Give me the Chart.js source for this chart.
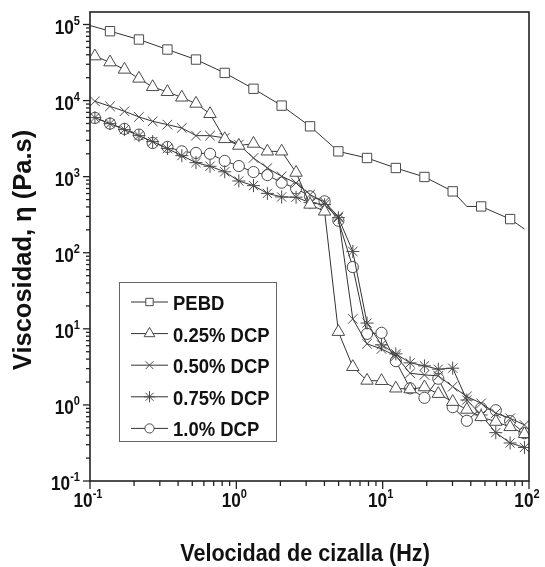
<!DOCTYPE html>
<html>
<head>
<meta charset="utf-8">
<script src="https://cdn.jsdelivr.net/npm/chart.js@4.4.1/dist/chart.umd.min.js"></script>
<style>
  html, body { margin: 0; padding: 0; background: #fff; }
  canvas { display: block; }
</style>
</head>
<body>
<canvas id="chart" width="545" height="567" style="width:545px;height:567px"></canvas>
<script>
// Shear-rate grid shared by the DCP blends (Hz)
const shearRate = [0.108, 0.137, 0.172, 0.216, 0.268, 0.338, 0.424, 0.530, 0.661, 0.833,
                   1.04, 1.31, 1.63, 2.04, 2.56, 3.19, 4.01, 4.98, 6.25, 7.82,
                   9.82, 12.3, 15.4, 19.3, 24.0, 30.1, 37.6, 47.1, 59.3, 74.3, 93.1];

// PEBD has its own (coarser) grid; the first, 15th and last points carry no marker
const pebdRate = [0.1, 0.137, 0.216, 0.338, 0.530, 0.833, 1.31, 2.04, 3.19, 4.98,
                  7.82, 12.3, 19.3, 30.1, 37.6, 47.1, 74.3, 93.1];
const pebd = [97000, 81700, 63500, 46900, 34600, 23100, 14300, 8590, 4590, 2150,
              1760, 1300, 991, 641, 406, 406, 277, 205];
const pebdNoMarker = [0, 14, 17];

// Viscosity (Pa.s)
const dcp025 = [38300, 31900, 25600, 19500, 15100, 13000, 11000, 9140, 6680, 3130,
                2560, 2720, 2150, 2150, 1130, 430, 349, 9.14, 3.16, 2.09,
                2.07, 1.65, 1.61, 1.71, 1.40, 1.10, 0.868, 0.694, 0.602, 0.513, 0.415];
const dcp050 = [9790, 8410, 7230, 6100, 5340, 4830, 4370, 3460, 3460, 3230,
                2640, 1760, 1300, 1010, 826, 580, 465, 300, 13.5, 6.35,
                5.45, 4.41, 2.61, 2.48, 2.41, 1.74, 1.29, 1.05, 0.778, 0.668, 0.546];
const dcp075 = [5970, 4980, 4150, 3460, 2890, 2340, 1890, 1530, 1370, 1160,
                878, 762, 603, 541, 537, 455, 428, 289, 104, 11.9,
                6.16, 4.69, 3.57, 3.26, 2.95, 3.04, 1.16, 0.738, 0.432, 0.316, 0.276];
const dcp10 = [5920, 4980, 4240, 3570, 2770, 2460, 2150, 2050, 2000, 1610,
               1380, 1150, 1050, 834, 702, 551, 473, 264, 64.9, 8.59,
               8.86, 3.76, 1.65, 1.24, 2.21, 0.933, 0.619, 0.906, 0.851, 0.612, 0.425];

const seriesLabels = ['PEBD', '0.25% DCP', '0.50% DCP', '0.75% DCP', '1.0% DCP'];
const xTitle = 'Velocidad de cizalla (Hz)';
const yTitle = 'Viscosidad, \u03b7 (Pa.s)';

const LINE = '#333';
const MARK = '#4a4a4a';
const FONT = '"Liberation Sans", Arial, sans-serif';

function pts(xs, ys) {
    return xs.map(function(x, i) { return { x: x, y: ys[i] }; });
}

function series(label, data, style, radius) {
    return {
        label: label,
        data: data,
        borderColor: LINE,
        borderWidth: 1,
        pointStyle: style,
        pointRadius: radius,
        pointBorderColor: MARK,
        pointBackgroundColor: '#fff',
        pointBorderWidth: 1,
        tension: 0,
        fill: false,
    };
}

const datasets = [
    series(seriesLabels[0], pts(pebdRate, pebd), 'rect',
        function(c) { return pebdNoMarker.indexOf(c.dataIndex) >= 0 ? 0 : 6.6; }),
    series(seriesLabels[1], pts(shearRate, dcp025), 'triangle', 7.2),
    series(seriesLabels[2], pts(shearRate, dcp050), 'crossRot', 6.8),
    series(seriesLabels[3], pts(shearRate, dcp075), 'star', 6.5),
    series(seriesLabels[4], pts(shearRate, dcp10), 'circle', 5.6),
];

// condensed bold text, drawn with a horizontal squeeze
function text(ctx, s, x, y, size, sx, align) {
    ctx.save();
    ctx.translate(x, y);
    ctx.scale(sx, 1);
    ctx.font = 'bold ' + size + 'px ' + FONT;
    ctx.textAlign = align;
    ctx.textBaseline = 'alphabetic';
    ctx.fillText(s, 0, 0);
    ctx.restore();
}

function textWidth(ctx, s, size, sx) {
    ctx.font = 'bold ' + size + 'px ' + FONT;
    return ctx.measureText(s).width * sx;
}

// "10" with a raised exponent; x is the left edge
function power(ctx, exp, x, baseline) {
    const w10 = textWidth(ctx, '10', 21, 0.82);
    text(ctx, '10', x, baseline, 21, 0.82, 'left');
    text(ctx, String(exp), x + w10, baseline - 9, 13, 0.85, 'left');
}

function powerWidth(ctx, exp) {
    return textWidth(ctx, '10', 21, 0.82) + textWidth(ctx, String(exp), 13, 0.85);
}

const axesPlugin = {
    id: 'axesPlugin',
    afterDatasetsDraw(chart) {
        const ctx = chart.ctx;
        const a = chart.chartArea;
        const xs = chart.scales.x;
        const ys = chart.scales.y;
        ctx.save();
        ctx.fillStyle = '#111';
        ctx.strokeStyle = '#222';

        // frame
        ctx.lineWidth = 1.6;
        ctx.strokeRect(a.left, a.top, a.right - a.left, a.bottom - a.top);

        ctx.lineWidth = 1.3;
        // x ticks, pointing out of the plot
        for (let e = -1; e <= 2; e++) {
            for (let m = 1; m <= 9; m++) {
                const v = m * Math.pow(10, e);
                if (v < xs.min * 0.999 || v > xs.max * 1.001) continue;
                const px = xs.getPixelForValue(v);
                ctx.beginPath();
                ctx.moveTo(px, a.bottom);
                ctx.lineTo(px, a.bottom + (m === 1 ? 8 : 5));
                ctx.stroke();
                if (m === 1) {
                    const w = powerWidth(ctx, e);
                    power(ctx, e, px - w / 2 - 2, a.bottom + 26);
                }
            }
        }
        // y ticks
        for (let e = -1; e <= 5; e++) {
            for (let m = 1; m <= 9; m++) {
                const v = m * Math.pow(10, e);
                if (v < ys.min * 0.999 || v > ys.max * 1.001) continue;
                const py = ys.getPixelForValue(v);
                ctx.beginPath();
                ctx.moveTo(a.left, py);
                ctx.lineTo(a.left - (m === 1 ? 7 : 4), py);
                ctx.stroke();
                if (m === 1) {
                    const w = powerWidth(ctx, e);
                    power(ctx, e, a.left - 10 - w, py + 9);
                }
            }
        }

        // axis titles
        text(ctx, xTitle, 305, 561, 24, 0.9, 'center');
        ctx.save();
        ctx.translate(31, 250);
        ctx.rotate(-Math.PI / 2);
        text(ctx, yTitle, 0, 0, 26, 0.98, 'center');
        ctx.restore();

        // legend box
        const box = { left: 119, top: 282, right: 276, bottom: 441 };
        ctx.fillStyle = '#fff';
        ctx.fillRect(box.left, box.top, box.right - box.left, box.bottom - box.top);
        ctx.strokeStyle = '#666';
        ctx.lineWidth = 1;
        ctx.strokeRect(box.left + 0.5, box.top + 0.5, box.right - box.left, box.bottom - box.top);
        const legendRadius = [5.2, 6.2, 5.6, 5.6, 4.6];
        chart.data.datasets.forEach(function(ds, i) {
            const cy = 302 + i * 31.6;
            ctx.strokeStyle = LINE;
            ctx.lineWidth = 1;
            ctx.beginPath();
            ctx.moveTo(131, cy);
            ctx.lineTo(168, cy);
            ctx.stroke();
            ctx.fillStyle = '#fff';
            ctx.strokeStyle = MARK;
            Chart.helpers.drawPoint(ctx, {
                pointStyle: ds.pointStyle,
                radius: legendRadius[i],
                rotation: 0,
                borderWidth: 1,
            }, 149.5, cy);
            ctx.fillStyle = '#111';
            text(ctx, ds.label, 173, cy + 8, 21, 0.88, 'left');
        });
        ctx.restore();
    }
};

new Chart(document.getElementById('chart'), {
    type: 'line',
    data: { datasets: datasets },
    options: {
        responsive: false,
        animation: false,
        devicePixelRatio: 1,
        layout: { padding: { left: 90, top: 12, right: 16, bottom: 86 } },
        plugins: {
            legend: { display: false },
            tooltip: { enabled: false },
        },
        scales: {
            x: { type: 'logarithmic', min: 0.1, max: 100, display: false },
            y: { type: 'logarithmic', min: 0.1, max: 146000, display: false },
        },
    },
    plugins: [axesPlugin],
});
</script>
</body>
</html>
